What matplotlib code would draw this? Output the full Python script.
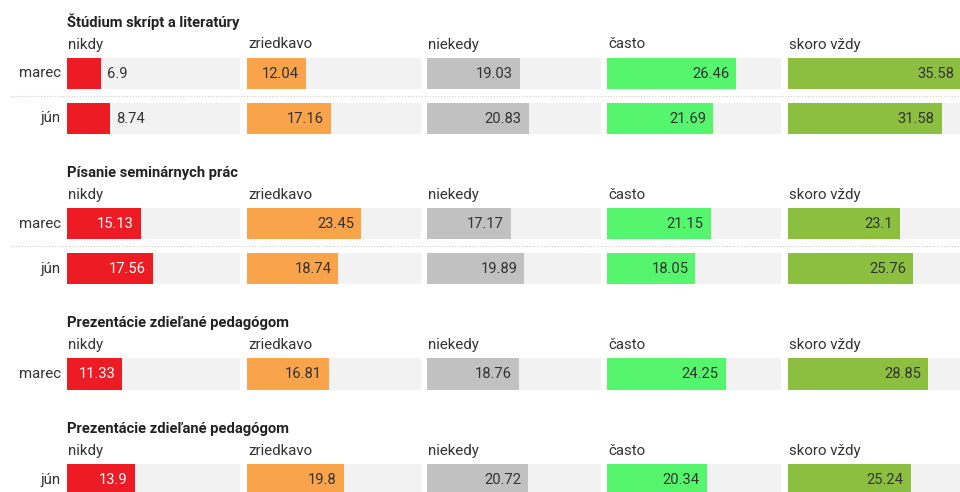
import matplotlib
matplotlib.use("Agg")
import matplotlib.pyplot as plt
import matplotlib.transforms as mtransforms

plt.rcParams['font.family'] = ['Roboto', 'DejaVu Sans']

categories = ["nikdy", "zriedkavo", "niekedy", "často", "skoro vždy"]
colors = ["#ED1C24", "#F9A34B", "#C1C1C1", "#55F56E", "#8CBF40"]
label_colors = ["white", "#333333", "#333333", "#333333", "#333333"]

group_titles = [
    "Štúdium skrípt a literatúry",
    "Písanie seminárnych prác",
    "Prezentácie zdieľané pedagógom",
    "Prezentácie zdieľané pedagógom",
]
group_rows = [
    ["marec", "jún"],
    ["marec", "jún"],
    ["marec"],
    ["jún"],
]
g1_marec = [6.9, 12.04, 19.03, 26.46, 35.58]
g1_jun = [8.74, 17.16, 20.83, 21.69, 31.58]
g2_marec = [15.13, 23.45, 17.17, 21.15, 23.1]
g2_jun = [17.56, 18.74, 19.89, 18.05, 25.76]
g3_marec = [11.33, 16.81, 18.76, 24.25, 28.85]
g4_jun = [13.9, 19.8, 20.72, 20.34, 25.24]
group_values = [[g1_marec, g1_jun], [g2_marec, g2_jun], [g3_marec], [g4_jun]]

W, H = 960, 492
fig = plt.figure(figsize=(W / 100, H / 100), dpi=100)
fig.patch.set_facecolor("white")

xmax = max(max(v) for g in group_values for v in g)

panel_left = 67.0
panel_w = 173.4
panel_gap = 6.75
row_pitch = 45.0
bar_frac = 31.5 / 45.0
group_bar_top = [57.5, 208.0, 358.0, 464.0]

FS_TITLE = 10.6
FS_LABEL = 10.8
FS_VALUE = 10.6

renderer = fig.canvas.get_renderer()

def fx(px):
    return px / W

def fy(py):
    return 1 - py / H

for gi, title in enumerate(group_titles):
    rows = group_rows[gi]
    vals = group_values[gi]
    n = len(rows)
    top = group_bar_top[gi]
    first_center = top + bar_frac * row_pitch / 2
    ax_top = first_center - row_pitch / 2
    ax_h = n * row_pitch

    # title
    fig.text(fx(panel_left), fy(top - 31), title, fontsize=FS_TITLE, fontweight="bold",
             color="#222222", ha="left", va="baseline")
    # row labels
    for ri, r in enumerate(rows):
        cy = first_center + ri * row_pitch
        fig.text(fx(61), fy(cy + 4.0), r, fontsize=FS_LABEL, color="#333333",
                 ha="right", va="baseline")
    # separators
    for ri in range(n - 1):
        sy = first_center + ri * row_pitch + row_pitch / 2
        fig.add_artist(plt.Line2D([fx(10), fx(960)], [fy(sy), fy(sy)],
                                  color="#D0D0D0", lw=0.8, ls=(0, (1, 1.5))))

    for ci, cat in enumerate(categories):
        lx = panel_left + ci * (panel_w + panel_gap)
        # header
        fig.text(fx(lx + 1), fy(top - 9), cat, fontsize=FS_LABEL, color="#333333",
                 ha="left", va="baseline")
        ax = fig.add_axes([fx(lx), fy(ax_top + ax_h), panel_w / W, ax_h / H])
        ax.set_xlim(0, xmax)
        ax.set_ylim(n - 0.5, -0.5)
        ax.axis("off")
        ys = list(range(n))
        ax.barh(ys, [xmax] * n, height=bar_frac, color="#F2F2F2", lw=0)
        cvals = [v[ci] for v in vals]
        ax.barh(ys, cvals, height=bar_frac, color=colors[ci], lw=0)
        for yi, v in zip(ys, cvals):
            s = str(v)
            bar_px = v / xmax * panel_w
            t = ax.text(0, 0, s, fontsize=FS_VALUE)
            tw = t.get_window_extent(renderer).width
            t.remove()
            if tw + 14 <= bar_px:
                tr = mtransforms.offset_copy(ax.transData, fig=fig, x=-7.0, y=-4.3, units="dots")
                ax.text(v, yi, s, fontsize=FS_VALUE, color=label_colors[ci], ha="right",
                        va="baseline", transform=tr)
            else:
                tr = mtransforms.offset_copy(ax.transData, fig=fig, x=6.5, y=-4.3, units="dots")
                ax.text(v, yi, s, fontsize=FS_VALUE, color="#333333", ha="left",
                        va="baseline", transform=tr)

fig.savefig("out.png", dpi=100, facecolor="white")
